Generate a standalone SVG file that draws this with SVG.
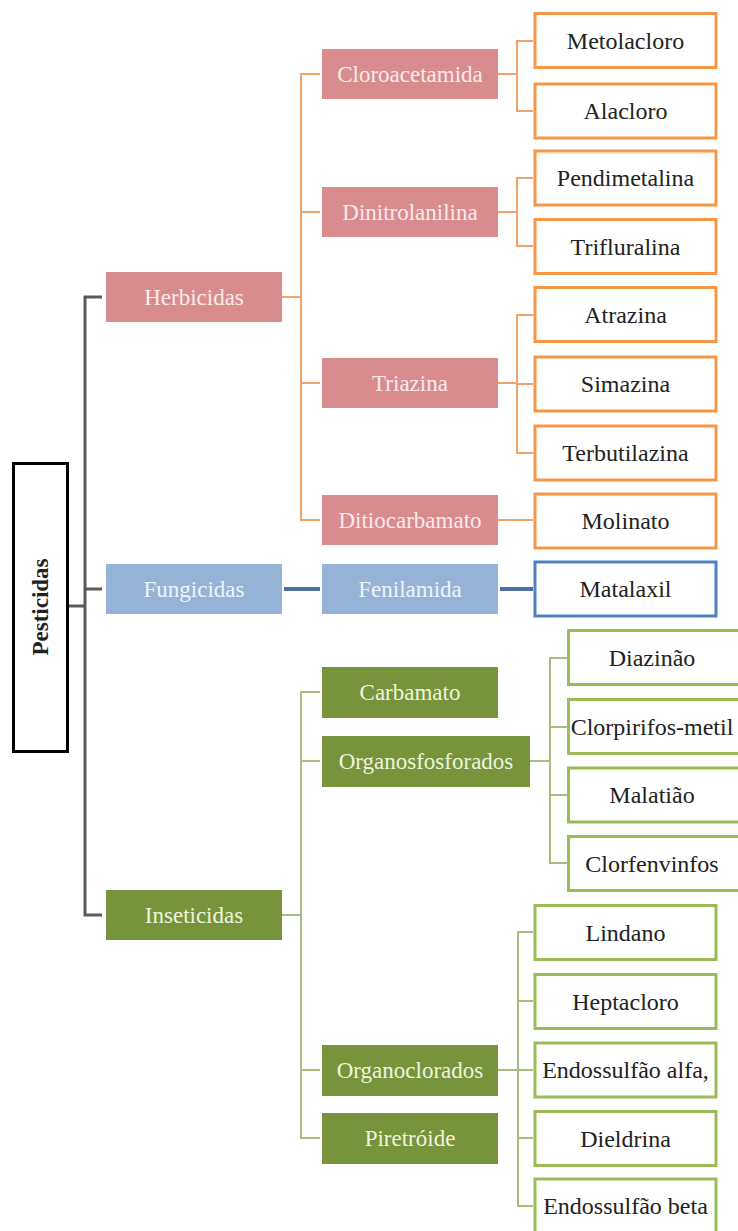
<svg xmlns="http://www.w3.org/2000/svg" width="738" height="1231" viewBox="0 0 738 1231">
<style>
text{font-family:"Liberation Serif","Times New Roman",serif;font-size:23px;text-anchor:middle;dominant-baseline:central}
.dk{fill:#222;font-size:24px}
.pk rect{fill:#D98C8E}
.pk text{fill:#FBEAEA}
.bl rect{fill:#95B3D7}
.bl text{fill:#EEF3FA}
.gr rect{fill:#77933C}
.gr text{fill:#EEF5DC}
.or rect{fill:#fff;stroke:#F79646;stroke-width:3}
.bo rect{fill:#fff;stroke:#4F81BD;stroke-width:3}
.go rect{fill:#fff;stroke:#9BBB59;stroke-width:3}
.c-gray{stroke:#5A5A5A;stroke-width:3;fill:none}
.c-or{stroke:#EFA26A;stroke-width:2;fill:none}
.c-bl{stroke:#4A6FA0;stroke-width:4;fill:none}
.c-gr{stroke:#A9BD7E;stroke-width:2;fill:none}
</style>
<g id="connectors">
<path class="c-gray" d="M68 606H85M102 297H85V915H102M85 589H102"/>
<path class="c-or" d="M282 297H301M320 74H301V520H320M301 212H320M301 383H320"/>
<path class="c-or" d="M498 74H517M533 41H517V111H533"/>
<path class="c-or" d="M498 212H517M533 178H517V246H533"/>
<path class="c-or" d="M498 383H517M533 315H517V453H533M517 384H533"/>
<path class="c-or" d="M498 520H533"/>
<path class="c-bl" d="M284 589H320M500 589H533"/>
<path class="c-gr" d="M282 915H301M320 692H301V1138H320M301 761H320M301 1070H320"/>
<path class="c-gr" d="M530 761H550M567 658H550V863H567M550 727H567M550 795H567"/>
<path class="c-gr" d="M498 1070H518M533 932H518V1206H533M518 1001H533M518 1070H533M518 1138H533"/>
</g>
<g id="pesticidas">
<rect x="13.5" y="463.5" width="54" height="288" fill="#fff" stroke="#000" stroke-width="3"/>
<text class="dk" transform="translate(40 607) rotate(-90)" font-weight="bold" style="font-size:23px">Pesticidas</text>
</g>
<g id="herbicidas" class="pk"><rect x="106" y="272" width="176" height="50"/><text x="194" y="297">Herbicidas</text></g>
<g id="fungicidas" class="bl"><rect x="106" y="564" width="176" height="50"/><text x="194" y="589">Fungicidas</text></g>
<g id="inseticidas" class="gr"><rect x="106" y="890" width="176" height="50"/><text x="194" y="915">Inseticidas</text></g>
<g id="cloroacetamida" class="pk"><rect x="322" y="49" width="176" height="50"/><text x="410" y="74">Cloroacetamida</text></g>
<g id="dinitrolanilina" class="pk"><rect x="322" y="187" width="176" height="50"/><text x="410" y="212">Dinitrolanilina</text></g>
<g id="triazina" class="pk"><rect x="322" y="358" width="176" height="50"/><text x="410" y="383">Triazina</text></g>
<g id="ditiocarbamato" class="pk"><rect x="322" y="495" width="176" height="50"/><text x="410" y="520">Ditiocarbamato</text></g>
<g id="fenilamida" class="bl"><rect x="322" y="564" width="176" height="50"/><text x="410" y="589">Fenilamida</text></g>
<g id="carbamato" class="gr"><rect x="322" y="667" width="176" height="51"/><text x="410" y="692">Carbamato</text></g>
<g id="organosfosforados" class="gr"><rect x="322" y="736" width="208" height="51"/><text x="426" y="761">Organosfosforados</text></g>
<g id="organoclorados" class="gr"><rect x="322" y="1045" width="176" height="51"/><text x="410" y="1070">Organoclorados</text></g>
<g id="piretroide" class="gr"><rect x="322" y="1113" width="176" height="51"/><text x="410" y="1138">Piretróide</text></g>
<g id="metolacloro" class="or"><rect x="535" y="13.5" width="181" height="54"/><text class="dk" x="625.5" y="40.5">Metolacloro</text></g>
<g id="alacloro" class="or"><rect x="535" y="84" width="181" height="54"/><text class="dk" x="625.5" y="111">Alacloro</text></g>
<g id="pendimetalina" class="or"><rect x="535" y="151" width="181" height="54"/><text class="dk" x="625.5" y="178">Pendimetalina</text></g>
<g id="trifluralina" class="or"><rect x="535" y="219.5" width="181" height="54"/><text class="dk" x="625.5" y="246.5">Trifluralina</text></g>
<g id="atrazina" class="or"><rect x="535" y="287.5" width="181" height="54"/><text class="dk" x="625.5" y="314.5">Atrazina</text></g>
<g id="simazina" class="or"><rect x="535" y="357" width="181" height="54"/><text class="dk" x="625.5" y="384">Simazina</text></g>
<g id="terbutilazina" class="or"><rect x="535" y="426" width="181" height="54"/><text class="dk" x="625.5" y="453">Terbutilazina</text></g>
<g id="molinato" class="or"><rect x="535" y="494" width="181" height="54"/><text class="dk" x="625.5" y="521">Molinato</text></g>
<g id="matalaxil" class="bo"><rect x="535" y="562" width="181" height="54"/><text class="dk" x="625.5" y="589">Matalaxil</text></g>
<g id="diazinao" class="go"><rect x="568.5" y="630.5" width="182" height="54"/><text class="dk" x="652" y="657.5">Diazinão</text></g>
<g id="clorpirifos" class="go"><rect x="568.5" y="699.5" width="182" height="54"/><text class="dk" x="652" y="726.5">Clorpirifos-metil</text></g>
<g id="malatiao" class="go"><rect x="568.5" y="768" width="182" height="54"/><text class="dk" x="652" y="795">Malatião</text></g>
<g id="clorfenvinfos" class="go"><rect x="568.5" y="836.5" width="182" height="54"/><text class="dk" x="652" y="863.5">Clorfenvinfos</text></g>
<g id="lindano" class="go"><rect x="535" y="905.5" width="181" height="54"/><text class="dk" x="625.5" y="932.5">Lindano</text></g>
<g id="heptacloro" class="go"><rect x="535" y="974.5" width="181" height="54"/><text class="dk" x="625.5" y="1001.5">Heptacloro</text></g>
<g id="endossulfao-alfa" class="go"><rect x="535" y="1043" width="181" height="54"/><text class="dk" x="625.5" y="1070">Endossulfão alfa,</text></g>
<g id="dieldrina" class="go"><rect x="535" y="1111.5" width="181" height="54"/><text class="dk" x="625.5" y="1138.5">Dieldrina</text></g>
<g id="endossulfao-beta" class="go"><rect x="535" y="1179" width="181" height="60"/><text class="dk" x="625.5" y="1206">Endossulfão beta</text></g>
</svg>
